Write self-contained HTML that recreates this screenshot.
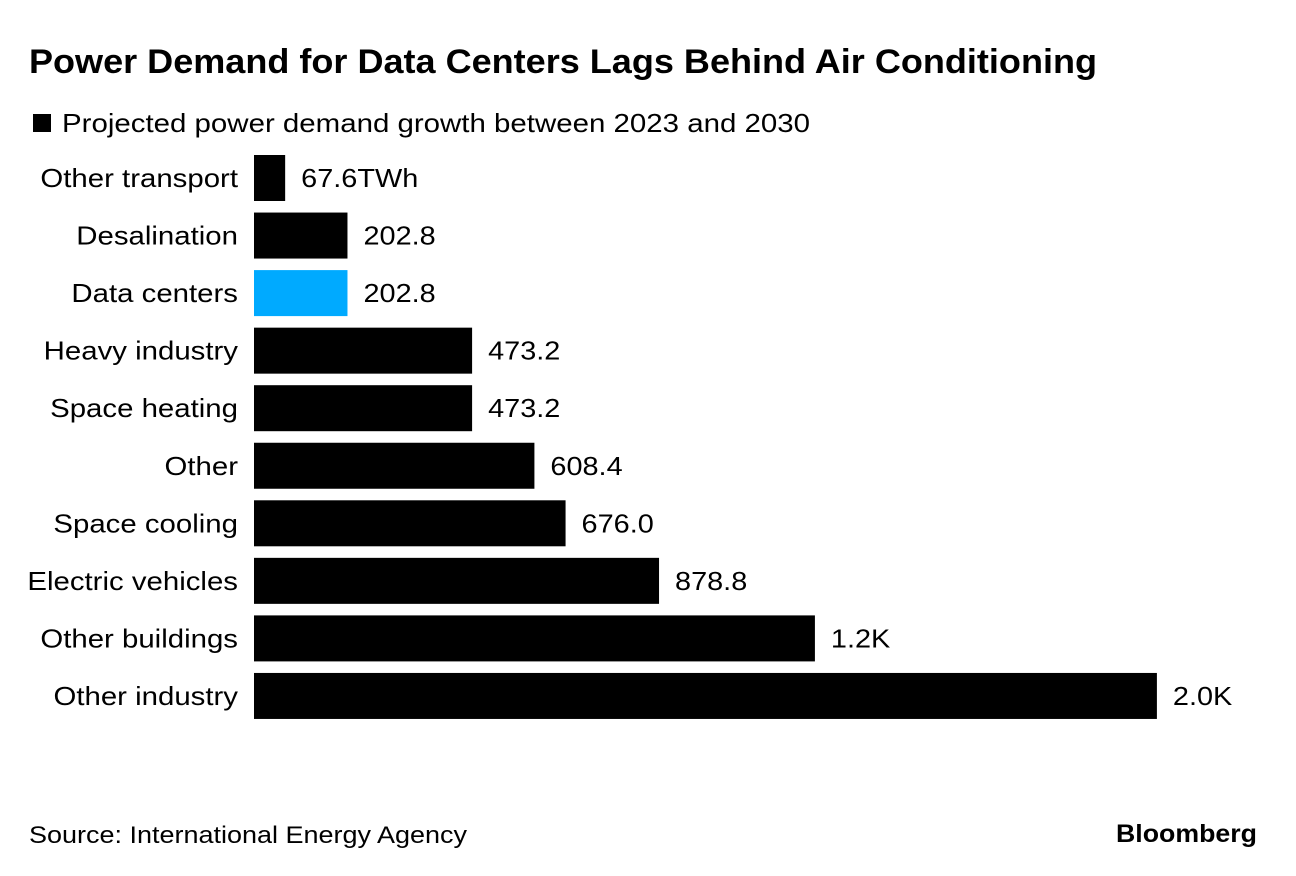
<!DOCTYPE html>
<html><head><meta charset="utf-8"><style>
html,body{margin:0;padding:0;background:#fff;}
svg{display:block;font-family:"Liberation Sans",Arial,sans-serif;}
</style></head><body>
<svg id="chart" width="1296" height="876" viewBox="0 0 1296 876">
<rect x="0" y="0" width="1296" height="876" fill="#fff"/>
<text x="29" y="73" font-size="34" font-weight="bold" textLength="1068" lengthAdjust="spacingAndGlyphs">Power Demand for Data Centers Lags Behind Air Conditioning</text>
<rect x="33" y="114" width="18" height="18" fill="#000"/>
<text x="62" y="132" font-size="26" textLength="748" lengthAdjust="spacingAndGlyphs">Projected power demand growth between 2023 and 2030</text>
<g id="bars"></g>
<text x="29" y="843" font-size="24" textLength="438" lengthAdjust="spacingAndGlyphs">Source: International Energy Agency</text>
<text x="1257" y="842" font-size="25" font-weight="bold" text-anchor="end" textLength="141" lengthAdjust="spacingAndGlyphs">Bloomberg</text>
</svg>
<script>
const categories = ["Other transport","Desalination","Data centers","Heavy industry","Space heating","Other","Space cooling","Electric vehicles","Other buildings","Other industry"];
const values = [67.6,202.8,202.8,473.2,473.2,608.4,676.0,878.8,1217,1959];
const valueLabels = ["67.6TWh","202.8","202.8","473.2","473.2","608.4","676.0","878.8","1.2K","2.0K"];
const highlight = "Data centers";
const NS="http://www.w3.org/2000/svg";
const x0=254, pxPerUnit=0.4609;
const xScale=v=>v*pxPerUnit;
const rowTop=i=>155+i*57.55;
const g=document.getElementById('bars');
function stretch(t,f){const L=t.getComputedTextLength();t.setAttribute('textLength',L*f);t.setAttribute('lengthAdjust','spacingAndGlyphs');}
categories.forEach((c,i)=>{
  const y=rowTop(i), w=xScale(values[i]);
  const r=document.createElementNS(NS,'rect');
  r.setAttribute('x',x0);r.setAttribute('y',y);r.setAttribute('width',w);r.setAttribute('height',46);
  r.setAttribute('fill',c===highlight?'#00aaff':'#000');
  
  
  g.appendChild(r);
  const t=document.createElementNS(NS,'text');
  t.setAttribute('x',238);t.setAttribute('y',y+32);t.setAttribute('font-size','26');t.setAttribute('text-anchor','end');
  t.textContent=c;
  
  
  g.appendChild(t);
  stretch(t,1.13);
  const v=document.createElementNS(NS,'text');
  v.setAttribute('x',x0+w+16);v.setAttribute('y',y+32);v.setAttribute('font-size','26');
  v.textContent=valueLabels[i];
  
  
  g.appendChild(v);
  stretch(v,1.11);
});
</script>
</body></html>
